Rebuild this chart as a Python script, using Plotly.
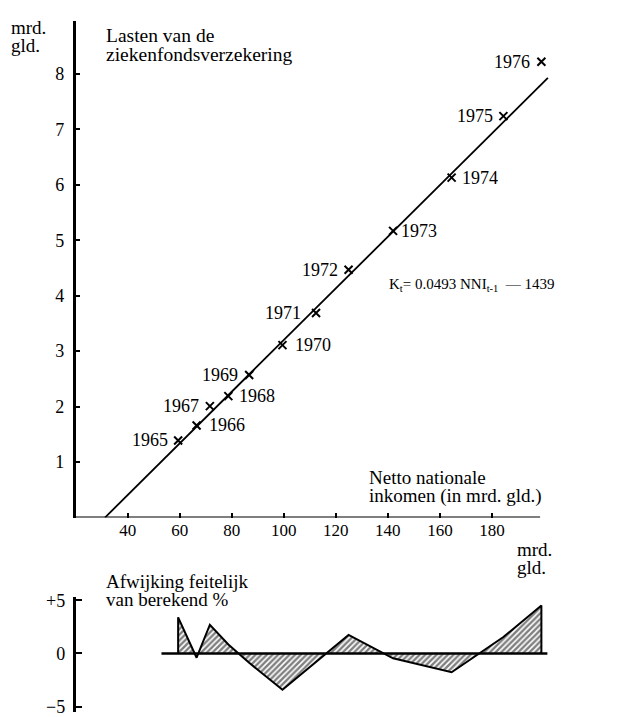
import plotly.graph_objects as go

# ---------------- data ----------------
years = [1965, 1966, 1967, 1968, 1969, 1970, 1971, 1972, 1973, 1974, 1975, 1976]
nni = [59.4, 66.5, 71.6, 78.7, 86.7, 99.5, 112.4, 124.9, 142.0, 164.5, 184.4, 199.0]   # mrd. gld.
lasten = [1.39, 1.66, 2.01, 2.19, 2.57, 3.11, 3.69, 4.47, 5.17, 6.13, 7.24, 8.22]    # mrd. gld.
afwijking = [3.4, -0.4, 2.7, 0.85, -0.88, -3.4, -0.82, 1.75, -0.45, -1.76, 1.55, 4.5]  # %

fit_x = [31.3, 201.5]
fit_y = [0.0, 7.93]
baseline_x = [53.0, 201.3]

x_ticks = [40, 60, 80, 100, 120, 140, 160, 180]
y_ticks = [1, 2, 3, 4, 5, 6, 7, 8]
dev_ticks = [-5, 0, 5]
dev_ticktext = ["\u22125", "0", "+5"]

# label side / gap (px) for each year label
label_side = ["L", "R", "L", "R", "L", "R", "L", "L", "R", "R", "L", "L"]
label_gap = [8, 10, 9, 9, 9, 11, 13, 9, 6, 8, 8, 9]

FONT = "Liberation Serif"
W, H = 621, 717

def px_x(p):
    return p / W

def px_y(p):
    return 1 - p / H

fig = go.Figure()

# regression line
fig.add_trace(go.Scatter(x=fit_x, y=fit_y, mode="lines",
                         line=dict(color="black", width=1.8),
                         xaxis="x", yaxis="y", hoverinfo="skip", showlegend=False))
# data points
fig.add_trace(go.Scatter(x=nni, y=lasten, mode="markers",
                         marker=dict(symbol="x-thin", size=8, color="black",
                                     line=dict(color="black", width=2)),
                         xaxis="x", yaxis="y", showlegend=False))

# deviation area (closed at both ends)
dev_x = [nni[0]] + nni + [nni[-1]]
dev_y = [0] + afwijking + [0]
fig.add_trace(go.Scatter(x=dev_x, y=dev_y, mode="lines", fill="tozeroy",
                         fillcolor="white",
                         fillpattern=dict(shape="/", fgcolor="black", bgcolor="white",
                                          size=4, solidity=0.6),
                         line=dict(color="black", width=2),
                         xaxis="x2", yaxis="y2", showlegend=False))

annotations = []
for yr, xv, yv, side, gap in zip(years, nni, lasten, label_side, label_gap):
    annotations.append(dict(
        x=xv, y=yv, xref="x", yref="y", text=str(yr), showarrow=False,
        xanchor="right" if side == "L" else "left", yanchor="middle",
        xshift=-gap if side == "L" else gap,
        font=dict(family=FONT, size=18, color="black")))

def txt(text, x, y, size=19, anchor="left"):
    annotations.append(dict(x=px_x(x), y=px_y(y), xref="paper", yref="paper",
                            text=text, showarrow=False, xanchor=anchor, yanchor="middle",
                            font=dict(family=FONT, size=size, color="black")))

txt("mrd.", 9, 22)
txt("gld.", 9, 40)
txt("Lasten van de", 104, 30, size=19.5)
txt("ziekenfondsverzekering", 104, 49, size=19.5)
txt("Netto nationale", 367, 479)
txt("inkomen (in mrd. gld.)", 367, 498)
txt("mrd.", 515, 552)
txt("gld.", 515, 570)
txt("Afwijking feitelijk", 104, 584)
txt("van berekend %", 104, 603)
txt("K<sub>t</sub>= 0.0493 NNI<sub>t-1</sub>\u00a0\u00a0\u2014 1439", 387, 283, size=15)

shapes = [
    # x axis line of the upper chart
    dict(type="line", xref="x", yref="y", x0=20, x1=198.5, y0=0, y1=0,
         line=dict(color="black", width=2.2)),
    # zero baseline of the deviation chart
    dict(type="line", xref="x2", yref="y2", x0=baseline_x[0], x1=baseline_x[1], y0=0, y1=0,
         line=dict(color="black", width=2.5)),
]

xdom = [px_x(75.6), px_x(549.2)]
fig.update_layout(
    width=W, height=H, autosize=False,
    margin=dict(l=0, r=0, t=0, b=0),
    paper_bgcolor="white", plot_bgcolor="white",
    showlegend=False,
    font=dict(family=FONT, color="black", size=17),
    xaxis=dict(domain=xdom, range=[20, 202], anchor="y",
               tickmode="array", tickvals=x_ticks, ticks="inside", ticklen=5,
               tickwidth=1.5, tickcolor="black", showline=False, showgrid=False,
               zeroline=False, tickfont=dict(family=FONT, size=17, color="black")),
    yaxis=dict(domain=[px_y(519.5), px_y(15.5)], range=[0, 8.95], anchor="x",
               tickmode="array", tickvals=y_ticks, ticks="inside", ticklen=5,
               tickwidth=1.5, tickcolor="black", showline=True, linewidth=2.5,
               linecolor="black", showgrid=False, zeroline=False,
               ticklabelstandoff=5,
               tickfont=dict(family=FONT, size=18, color="black")),
    xaxis2=dict(domain=xdom, range=[20, 202], anchor="y2", visible=False),
    yaxis2=dict(domain=[px_y(717), px_y(600.3)], range=[-5.5, 5.3], anchor="x2",
                tickmode="array", tickvals=dev_ticks, ticktext=dev_ticktext,
                ticks="inside", ticklen=7, tickwidth=1.5, tickcolor="black",
                showline=True, linewidth=2.5, linecolor="black",
                showgrid=False, zeroline=False, ticklabelstandoff=4,
                ticklabeloverflow="allow",
                tickfont=dict(family=FONT, size=18, color="black")),
    annotations=annotations,
    shapes=shapes,
)

fig.write_html("out.html",
               config={"displayModeBar": False},
               post_script="document.body.style.margin='0px';document.body.style.overflow='hidden';")
